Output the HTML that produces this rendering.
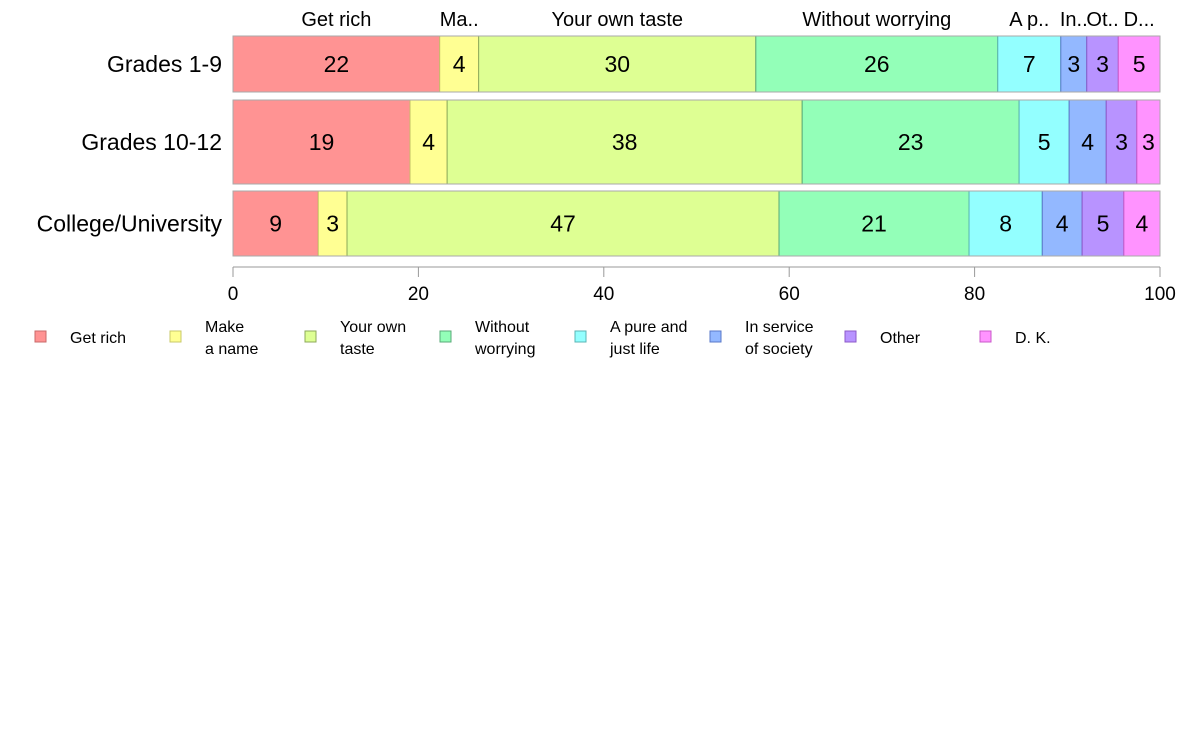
<!DOCTYPE html>
<html><head><meta charset="utf-8"><style>
body{margin:0;background:#fff;font-family:"Liberation Sans",sans-serif}
svg{display:block}
</style></head><body>
<svg id="chart" width="1188" height="736" xmlns="http://www.w3.org/2000/svg" font-family="Liberation Sans, sans-serif"></svg>
<script>
const categories=["Grades 1-9","Grades 10-12","College/University"];
const seriesNames=["Get rich","Make a name","Your own taste","Without worrying","A pure and just life","In service of society","Other","D. K."];
const topLabels=["Get rich","Ma..","Your own taste","Without worrying","A p..","In..","Ot..","D..."];
const legendLines=[["Get rich"],["Make","a name"],["Your own","taste"],["Without","worrying"],["A pure and","just life"],["In service","of society"],["Other"],["D. K."]];
const row1=[22.3,4.2,29.9,26.1,6.8,2.8,3.4,4.5];
const row2=[19.1,4.0,38.3,23.4,5.4,4.0,3.3,2.5];
const row3=[9.2,3.1,46.6,20.5,7.9,4.3,4.5,3.9];
const ticks=[0,20,40,60,80,100];
const fills=["#ff9393","#ffff93","#deff93","#93ffb8","#93ffff","#93b8ff","#b893ff","#ff93ff"];
const strokes=["#c86a6a","#c8c86a","#8caa5a","#5aaa78","#5ab4b4","#5a78c8","#8c5ac8","#c85ac8"];
const rows=[row1,row2,row3];
const rowBands=[[36,92],[100,184],[191,256]];
const NS="http://www.w3.org/2000/svg";
const svg=document.getElementById('chart');
const x=v=>233+v*(1160-233)/100;
function mk(t,a){const e=document.createElementNS(NS,t);for(const k in a)e.setAttribute(k,a[k]);svg.appendChild(e);return e;}
rows.forEach((r,i)=>{
  const [y0,y1]=rowBands[i];
  const lab=mk('text',{x:222,y:(y0+y1)/2+8,'text-anchor':'end','font-size':23});
  lab.textContent=categories[i];
  
  
  let c=0;
  r.forEach((v,j)=>{
    const rc=mk('rect',{x:x(c),y:y0,width:x(c+v)-x(c),height:y1-y0,fill:fills[j],stroke:strokes[j],'stroke-width':1});
    
    
    const t=mk('text',{x:(x(c)+x(c+v))/2,y:(y0+y1)/2+8,'text-anchor':'middle','font-size':23});
    t.textContent=Math.round(v);
    
    
    if(i===0){
      const tl=mk('text',{x:(x(c)+x(c+v))/2,y:26,'text-anchor':'middle','font-size':20});
      tl.textContent=topLabels[j];
      
      
    }
    c+=v;
  });
  const outline=mk('rect',{x:233,y:y0,width:927,height:y1-y0,fill:'none',stroke:'#aaa','stroke-width':1});
  
  
});
const ax=mk('line',{x1:233,x2:1160,y1:267,y2:267,stroke:'#999'});


ticks.forEach(t=>{
  const l=mk('line',{x1:x(t),x2:x(t),y1:267,y2:277,stroke:'#999'});
  
  
  const tx=mk('text',{x:x(t),y:300,'text-anchor':'middle','font-size':19});
  tx.textContent=t;
  
  
});
seriesNames.forEach((n,j)=>{
  const lx=35+j*135;
  const sq=mk('rect',{x:lx,y:331,width:11,height:11,fill:fills[j],stroke:strokes[j]});
  
  
  const lines=legendLines[j];
  lines.forEach((s,k)=>{
    const y=lines.length===1?343:332+k*22;
    const t=mk('text',{x:lx+35,y:y,'font-size':16});
    t.textContent=s;
    
    
  });
});
</script>
</body></html>
